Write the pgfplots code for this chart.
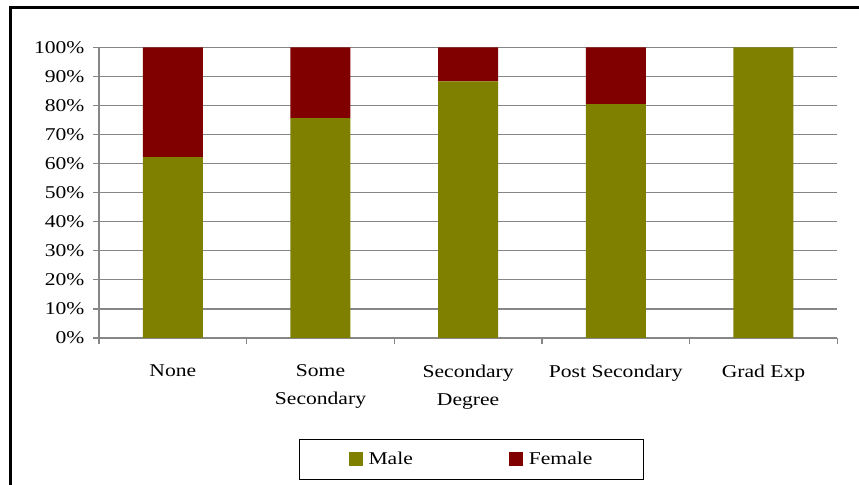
\documentclass[border=0pt]{standalone}
\usepackage{fontspec}
\setmainfont{Liberation Serif}[FakeStretch=1.2]
\usepackage{pgfplots}
\pgfplotsset{compat=1.18}
\definecolor{male}{RGB}{128,128,0}
\definecolor{female}{RGB}{128,0,0}
\definecolor{gridgray}{RGB}{134,134,134}

\pgfplotstableread{
x male female
1 62.3 37.7
2 75.7 24.3
3 88.3 11.7
4 80.5 19.5
5 100  0
}\edu

\begin{document}
\begin{tikzpicture}
\useasboundingbox (0,0) rectangle (859bp,485bp);
\draw[line width=3bp] (10bp,0) -- (10bp,477bp) -- (859bp,477bp);
\begin{axis}[
  at={(99bp,147bp)}, anchor=south west,
  scale only axis,
  width=738.3bp, height=290.5bp,
  ybar stacked,
  bar width=60bp,
  xmin=0.5, xmax=5.5,
  ymin=0, ymax=100,
  xtick={1,2,3,4,5},
  xticklabels={None,Some\\Secondary,Secondary\\Degree,Post Secondary,Grad Exp},
  minor xtick={0.5,1.5,2.5,3.5,4.5,5.5},
  ytick={0,10,...,100},
  yticklabel={\pgfmathprintnumber[assume math mode=true]{\tick}\%},
  tick align=outside,
  major tick length=6bp,
  minor tick length=6bp,
  x tick style={draw=none},
  minor x tick style={draw=gridgray, line width=1.2bp},
  y tick style={draw=gridgray, line width=1.2bp},
  ymajorgrids,
  grid style={draw=gridgray, line width=1.2bp},
  axis line style={draw=gridgray, line width=1.2bp},
  axis x line*=bottom,
  axis y line*=left,
  separate axis lines,
  ticklabel style={font=\fontsize{18bp}{28bp}\selectfont},
  xticklabel style={align=center, yshift=-17bp},
  yticklabel style={xshift=-5bp},
  legend columns=2,
  legend style={at={(0.5045,0)}, anchor=north, yshift=-101bp,
    draw=black, line width=0.8bp,
    font=\fontsize{18bp}{20bp}\selectfont,
    inner xsep=49bp, inner ysep=11bp,
    /tikz/every even column/.append style={column sep=94bp}},
  legend image code/.code={\fill[#1] (0bp,-7bp) rectangle (14bp,7bp); \path (18bp,0bp);},
]
\addplot[fill=male, draw=none] table[x=x, y=male] {\edu};
\addplot[fill=female, draw=none] table[x=x, y=female] {\edu};
\legend{Male,Female}
\end{axis}
\end{tikzpicture}
\end{document}
